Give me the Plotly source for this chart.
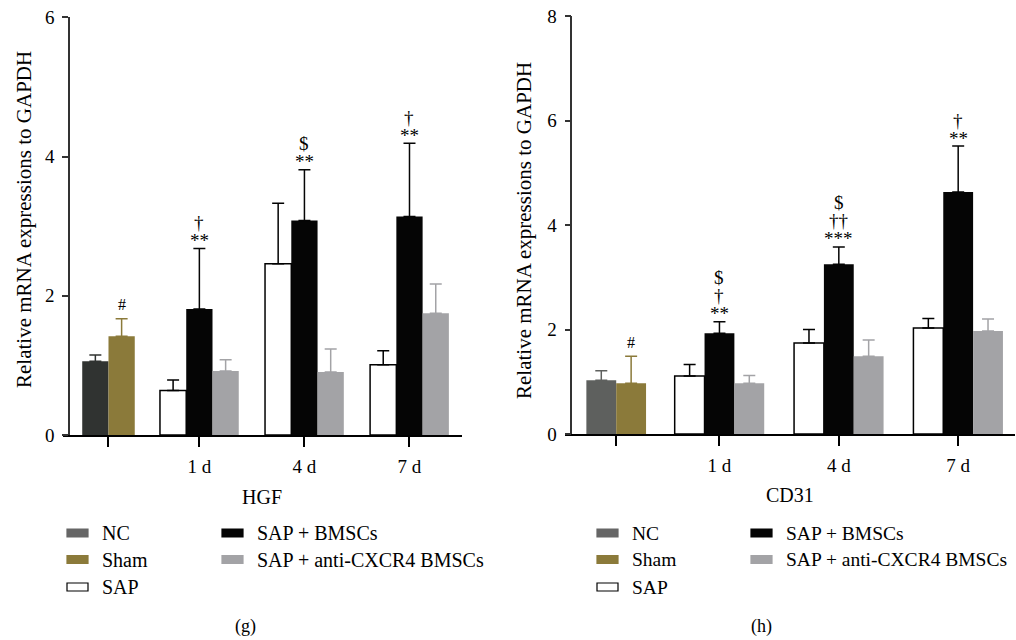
import plotly.graph_objects as go

# ---------------- data ----------------
tick_labels = ["", "1 d", "4 d", "7 d"]
legend_names = ["NC", "Sham", "SAP", "SAP + BMSCs", "SAP + anti-CXCR4 BMSCs"]

# HGF panel (g)
hgf_nc = [1.06]
hgf_nc_err = [0.09]
hgf_sham = [1.42]
hgf_sham_err = [0.25]
hgf_sap = [0.64, 2.46, 1.01]
hgf_sap_err = [0.15, 0.87, 0.20]
hgf_bmsc = [1.81, 3.08, 3.14]
hgf_bmsc_err = [0.87, 0.73, 1.05]
hgf_anti = [0.92, 0.905, 1.75]
hgf_anti_err = [0.16, 0.33, 0.42]
hgf_sham_sig = ["#"]
hgf_bmsc_sig = [["**", "†"], ["**", "$"], ["**", "†"]]

# CD31 panel (h)
cd31_nc = [1.03]
cd31_nc_err = [0.18]
cd31_sham = [0.97]
cd31_sham_err = [0.52]
cd31_sap = [1.11, 1.74, 2.03]
cd31_sap_err = [0.22, 0.26, 0.18]
cd31_bmsc = [1.93, 3.25, 4.63]
cd31_bmsc_err = [0.22, 0.33, 0.88]
cd31_anti = [0.97, 1.49, 1.97]
cd31_anti_err = [0.15, 0.31, 0.23]
cd31_sham_sig = ["#"]
cd31_bmsc_sig = [["**", "†", "$"], ["***", "††", "$"], ["**", "†"]]

# ---------------- styling / layout ----------------
W, H = 1016, 640
FONT = "Liberation Serif"
C_NC_L = "#303331"
C_NC_R = "#5e605e"
C_NC_LEG = "#666666"
C_SHAM = "#8b7a3a"
C_BMSC = "#050505"
C_ANTI = "#a3a3a6"

ctrl_pos = 0.135
time_pos = [1, 2, 3]
BW = 0.25


def px(xp):
    return xp / W


def py(yp):
    return 1 - yp / H


fig = go.Figure()


def add_panel(xa, ya, nc, nce, sham, shame, sap, sape, bm, bme, an, ane, nc_color):
    common = dict(xaxis=xa, yaxis=ya, width=BW, showlegend=False)
    fig.add_bar(x=[ctrl_pos - BW / 2], y=nc, marker=dict(color=nc_color, line=dict(width=0)),
                error_y=dict(type="data", array=nce, symmetric=False, arrayminus=[0],
                             color=nc_color, thickness=1.5, width=6), **common)
    fig.add_bar(x=[ctrl_pos + BW / 2], y=sham, marker=dict(color=C_SHAM, line=dict(width=0)),
                error_y=dict(type="data", array=shame, symmetric=False, arrayminus=[0],
                             color=C_SHAM, thickness=1.5, width=6), **common)
    fig.add_bar(x=[t - BW for t in time_pos], y=sap,
                marker=dict(color="white", line=dict(color="black", width=1.5)),
                error_y=dict(type="data", array=sape, symmetric=False, arrayminus=[0] * 3,
                             color="black", thickness=1.5, width=6), **common)
    fig.add_bar(x=time_pos, y=bm, marker=dict(color=C_BMSC, line=dict(width=0)),
                error_y=dict(type="data", array=bme, symmetric=False, arrayminus=[0] * 3,
                             color=C_BMSC, thickness=1.5, width=6), **common)
    fig.add_bar(x=[t + BW for t in time_pos], y=an, marker=dict(color=C_ANTI, line=dict(width=0)),
                error_y=dict(type="data", array=ane, symmetric=False, arrayminus=[0] * 3,
                             color=C_ANTI, thickness=1.5, width=6), **common)


add_panel("x", "y", hgf_nc, hgf_nc_err, hgf_sham, hgf_sham_err, hgf_sap, hgf_sap_err,
          hgf_bmsc, hgf_bmsc_err, hgf_anti, hgf_anti_err, C_NC_L)
add_panel("x2", "y2", cd31_nc, cd31_nc_err, cd31_sham, cd31_sham_err, cd31_sap, cd31_sap_err,
          cd31_bmsc, cd31_bmsc_err, cd31_anti, cd31_anti_err, C_NC_R)

annotations = []


def sig(xref, yref, x, ytop, labels, first=8, step=18, size=19):
    for i, lab in enumerate(labels):
        annotations.append(dict(x=x, y=ytop, xref=xref, yref=yref, text=lab, showarrow=False,
                                xanchor="center", yanchor="middle",
                                yshift=first + step * i,
                                font=dict(family=FONT, size=size, color="black")))


sig("x", "y", ctrl_pos + BW / 2, hgf_sham[0] + hgf_sham_err[0], hgf_sham_sig, first=14, size=16)
for t, v, e, labs in zip(time_pos, hgf_bmsc, hgf_bmsc_err, hgf_bmsc_sig):
    sig("x", "y", t, v + e, labs)
sig("x2", "y2", ctrl_pos + BW / 2, cd31_sham[0] + cd31_sham_err[0], cd31_sham_sig, first=14, size=16)
for t, v, e, labs in zip(time_pos, cd31_bmsc, cd31_bmsc_err, cd31_bmsc_sig):
    sig("x2", "y2", t, v + e, labs)


def txt(xp, yp, text, size=20, xanchor="center", angle=0):
    annotations.append(dict(x=px(xp), y=py(yp), xref="paper", yref="paper", text=text,
                            showarrow=False, xanchor=xanchor, yanchor="middle", textangle=angle,
                            font=dict(family=FONT, size=size, color="black")))


# axis titles
txt(24, 220, "Relative mRNA expressions to GAPDH", size=21, angle=-90)
txt(524, 231, "Relative mRNA expressions to GAPDH", size=21, angle=-90)
txt(262, 497, "HGF")
txt(790, 495, "CD31")
txt(245, 626, "(g)", size=18)
txt(761, 626, "(h)", size=18)

# legends (drawn manually in two columns)
shapes = []


def legend(col1_x, col2_x, nc_col, size=20):
    rows = [533, 559.5, 587]
    fills = [nc_col, C_SHAM, "white", C_BMSC, C_ANTI]
    pos = [(col1_x, rows[0]), (col1_x, rows[1]), (col1_x, rows[2]), (col2_x, rows[0]), (col2_x, rows[1])]
    for name, fc, (x0, yc) in zip(legend_names, fills, pos):
        shapes.append(dict(type="rect", xref="paper", yref="paper",
                           x0=px(x0), x1=px(x0 + 21), y0=py(yc + 4), y1=py(yc - 4),
                           fillcolor=fc,
                           line=dict(color="black" if fc == "white" else fc, width=1.2)))
        txt(x0 + 33, yc, name, xanchor="left", size=size)


legend(67, 222, C_NC_LEG)
legend(597, 751, C_NC_LEG, size=19.5)

axis_common = dict(showgrid=False, zeroline=False, ticks="outside", automargin=False,
                   tickfont=dict(family=FONT, size=19, color="black"))

fig.update_layout(
    width=W, height=H,
    autosize=False,
    margin=dict(l=0, r=0, t=0, b=0, pad=0, autoexpand=False),
    paper_bgcolor="white", plot_bgcolor="white",
    barmode="overlay",
    showlegend=False,
    annotations=annotations,
    shapes=shapes,
    xaxis=dict(domain=[px(63), px(461.7)], range=[-0.298, 3.497], anchor="y",
               tickvals=[ctrl_pos] + time_pos, ticktext=tick_labels,
               showline=True, linecolor="black", linewidth=2, ticklen=10, tickwidth=1.5,
               tickcolor="black", ticklabelstandoff=3, **axis_common),
    yaxis=dict(domain=[py(435), py(17.3)], range=[0, 6], anchor="free", position=px(69),
               tickvals=[0, 2, 4, 6], showline=True, linecolor="#333333", linewidth=1.5,
               ticklen=6, tickwidth=1.5, tickcolor="#333333", ticklabelstandoff=4, **axis_common),
    xaxis2=dict(domain=[px(565), px(1015)], range=[-0.294, 3.476], anchor="y2",
                tickvals=[ctrl_pos] + time_pos, ticktext=tick_labels,
                showline=True, linecolor="black", linewidth=2, ticklen=10, tickwidth=1.5,
                tickcolor="black", ticklabelstandoff=3, **axis_common),
    yaxis2=dict(domain=[py(434), py(16)], range=[0, 8], anchor="free", position=px(571.3),
                tickvals=[0, 2, 4, 6, 8], showline=True, linecolor="#333333", linewidth=1.5,
                ticklen=6, tickwidth=1.5, tickcolor="#333333", ticklabelstandoff=4, **axis_common),
)

fig.write_html(
    "out.html",
    config={"displayModeBar": False, "responsive": False},
    post_script="document.documentElement.style.margin='0';"
                "document.body.style.margin='0';document.body.style.padding='0';"
                "document.body.style.overflow='hidden';",
)
